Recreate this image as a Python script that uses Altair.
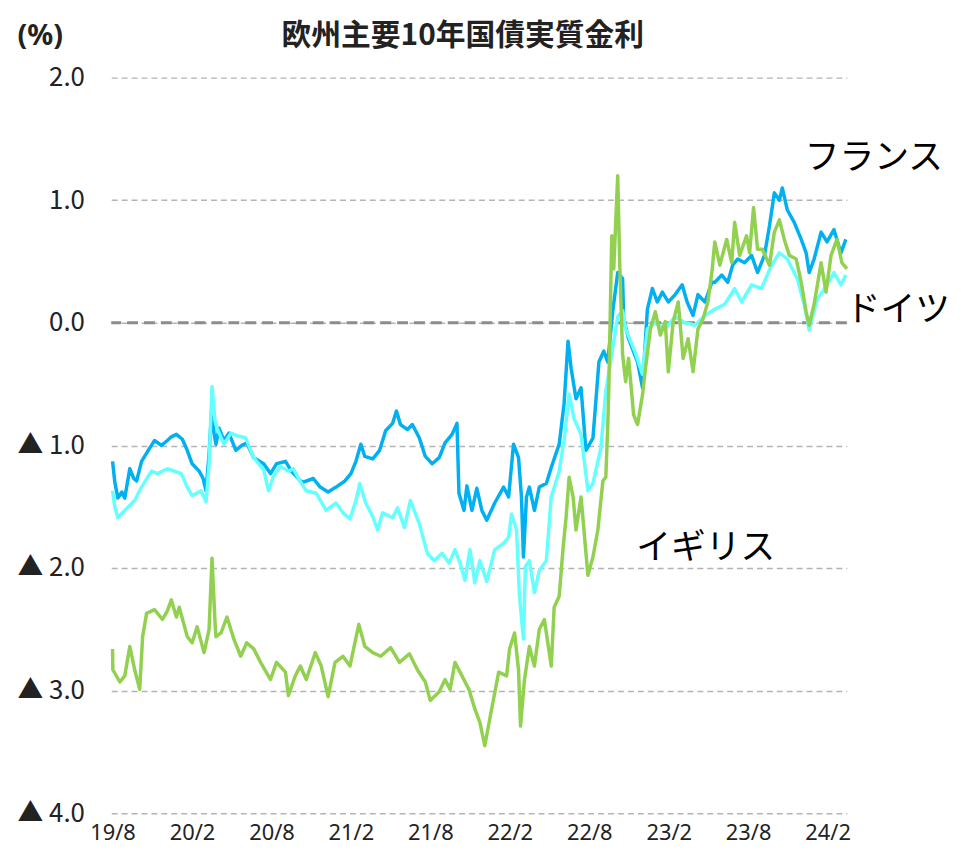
import altair as alt
import pandas as pd

fr_m = [0.00, 0.17, 0.40, 0.70, 0.92, 1.30, 1.60, 1.82, 2.19, 2.64, 2.94, 3.17, 3.69, 4.14, 4.44, 4.82, 5.27, 5.64, 6.01, 6.54,
        6.84, 7.06, 7.29, 7.51, 7.66, 7.81, 8.04, 8.41, 8.79, 9.31, 9.76, 10.13, 10.66, 11.41, 11.93, 12.38, 13.06, 13.51, 14.18, 14.40,
        15.16, 15.68, 16.28, 16.88, 17.55, 18.00, 18.38, 18.75, 19.05, 19.65, 20.17, 20.62, 21.15, 21.44, 21.74, 22.27, 22.64, 23.17, 23.62, 24.14,
        24.67, 25.11, 25.64, 26.01, 26.16, 26.54, 26.76, 27.14, 27.51, 27.89, 28.26, 28.86, 29.53, 29.91, 30.28, 30.66, 30.88, 31.03, 31.26, 31.48,
        31.86, 32.23, 32.76, 33.13, 33.73, 34.10, 34.40, 34.63, 35.00, 35.38, 35.75, 36.28, 36.73, 37.10, 37.40, 37.77, 38.15, 38.52, 38.60, 38.97,
        39.65, 40.02, 40.39, 40.77, 41.14, 41.52, 41.97, 42.49, 43.02, 43.39, 43.84, 44.21, 44.74, 45.26, 45.48, 46.01, 46.46, 46.83, 47.21, 47.73,
        48.26, 48.71, 49.23, 49.61, 49.98, 50.36, 50.58, 50.96, 51.48, 52.01, 52.38, 52.61, 52.98, 53.51, 53.96, 54.48, 55.01, 55.38]
fr_v = [-1.13, -1.30, -1.43, -1.38, -1.43, -1.19, -1.27, -1.29, -1.13, -1.05, -1.00, -0.96, -1.00, -0.96, -0.93, -0.91, -0.95, -1.04, -1.15, -1.21,
        -1.27, -1.37, -1.07, -0.66, -0.90, -0.99, -0.86, -0.96, -0.90, -1.04, -1.00, -0.98, -1.10, -1.15, -1.23, -1.15, -1.13, -1.21, -1.29, -1.30,
        -1.27, -1.34, -1.38, -1.34, -1.29, -1.23, -1.13, -0.99, -1.09, -1.11, -1.04, -0.88, -0.82, -0.72, -0.83, -0.87, -0.83, -0.94, -1.09, -1.15,
        -1.10, -0.98, -0.91, -0.82, -1.39, -1.53, -1.33, -1.53, -1.35, -1.53, -1.61, -1.47, -1.34, -1.42, -0.99, -1.10, -1.42, -1.91, -1.42, -1.34,
        -1.53, -1.34, -1.31, -1.18, -0.99, -0.66, -0.15, -0.37, -0.62, -0.53, -1.04, -0.94, -0.32, -0.23, -0.32, 0.09, 0.41, 0.36, 0.03, -0.13,
        -0.32, -0.53, 0.11, 0.28, 0.17, 0.25, 0.17, 0.23, 0.31, 0.17, 0.06, 0.23, 0.17, 0.33, 0.33, 0.39, 0.33, 0.47, 0.52, 0.49,
        0.55, 0.41, 0.55, 0.79, 1.06, 1.00, 1.10, 0.92, 0.82, 0.68, 0.57, 0.41, 0.52, 0.74, 0.66, 0.76, 0.57, 0.68]

de_m = [0.00, 0.17, 0.40, 0.92, 1.67, 2.19, 2.94, 3.39, 4.14, 4.67, 5.19, 5.64, 6.01, 6.69, 7.06, 7.29, 7.51, 7.74, 7.89, 8.41,
        8.94, 9.39, 10.06, 10.66, 11.41, 11.78, 12.16, 12.68, 13.28, 13.66, 14.03, 14.63, 15.38, 16.13, 16.88, 17.40, 17.93, 18.38, 18.67, 19.12,
        19.65, 20.02, 20.39, 21.15, 21.52, 22.04, 22.49, 23.17, 23.77, 24.29, 24.89, 25.41, 25.86, 26.24, 26.61, 26.99, 27.36, 27.74, 28.26, 28.86,
        29.53, 29.91, 30.13, 30.51, 30.73, 31.03, 31.18, 31.48, 31.86, 32.23, 32.76, 33.13, 33.73, 34.10, 34.48, 34.85, 35.38, 35.90, 36.28, 36.88,
        37.25, 37.77, 38.15, 38.52, 38.75, 39.50, 40.02, 40.39, 40.99, 41.74, 42.49, 43.24, 43.99, 44.74, 45.48, 46.23, 46.98, 47.51, 48.26, 49.01,
        49.76, 50.36, 50.96, 51.71, 52.23, 52.61, 53.21, 53.96, 54.48, 55.01, 55.38]
de_v = [-1.37, -1.50, -1.59, -1.53, -1.45, -1.34, -1.21, -1.23, -1.19, -1.21, -1.23, -1.34, -1.41, -1.37, -1.46, -1.15, -0.52, -0.80, -0.86, -0.99,
        -0.90, -0.92, -0.94, -1.10, -1.20, -1.37, -1.25, -1.17, -1.21, -1.19, -1.27, -1.37, -1.39, -1.53, -1.47, -1.55, -1.60, -1.45, -1.31, -1.47,
        -1.58, -1.69, -1.55, -1.59, -1.51, -1.67, -1.45, -1.64, -1.88, -1.94, -1.88, -1.96, -1.85, -1.96, -2.10, -1.85, -2.12, -1.94, -2.11, -1.85,
        -1.80, -1.75, -1.56, -1.69, -2.23, -2.58, -1.99, -1.94, -2.20, -2.02, -1.94, -1.42, -1.21, -0.96, -0.58, -0.78, -0.91, -1.37, -1.31, -1.02,
        -0.56, -0.21, 0.05, 0.10, -0.05, -0.25, -0.42, -0.05, 0.00, -0.05, 0.05, 0.00, -0.02, 0.06, 0.11, 0.15, 0.28, 0.17, 0.31, 0.28,
        0.47, 0.57, 0.52, 0.36, 0.15, -0.06, 0.19, 0.31, 0.41, 0.31, 0.39]

uk_m = [0.00, 0.02, 0.55, 0.92, 1.30, 1.67, 2.05, 2.27, 2.57, 3.17, 3.77, 4.14, 4.44, 4.82, 5.04, 5.64, 6.01, 6.39, 6.91, 7.29,
        7.51, 7.74, 7.81, 8.19, 8.64, 9.16, 9.68, 10.13, 10.66, 11.18, 11.93, 12.38, 13.06, 13.28, 13.80, 14.18, 14.63, 15.31, 15.76, 16.28,
        16.80, 17.40, 17.93, 18.30, 18.60, 19.05, 19.65, 20.25, 21.00, 21.67, 22.42, 23.02, 23.62, 23.99, 24.67, 25.11, 25.49, 25.86, 26.39, 26.91,
        27.36, 27.74, 28.11, 28.49, 29.16, 29.76, 29.98, 30.36, 30.66, 30.81, 31.11, 31.48, 31.86, 32.23, 32.61, 33.13, 33.35, 33.73, 34.03, 34.25,
        34.48, 34.78, 35.00, 35.38, 35.60, 35.90, 36.28, 36.65, 37.03, 37.25, 37.40, 37.48, 37.70, 37.85, 38.15, 38.30, 38.52, 38.75, 38.97, 39.35,
        39.65, 40.02, 40.25, 40.62, 40.99, 41.37, 41.74, 41.97, 42.34, 42.72, 43.09, 43.47, 43.84, 44.21, 44.59, 44.96, 45.26, 45.48, 45.86, 46.38,
        46.76, 46.98, 47.36, 47.88, 48.11, 48.41, 48.71, 49.08, 49.61, 49.98, 50.36, 50.73, 51.11, 51.63, 52.01, 52.38, 52.61, 52.98, 53.51, 53.88,
        54.26, 54.71, 55.08, 55.46]
uk_v = [-2.66, -2.83, -2.93, -2.88, -2.64, -2.83, -2.99, -2.56, -2.37, -2.34, -2.42, -2.35, -2.26, -2.40, -2.32, -2.56, -2.61, -2.48, -2.69, -2.50,
        -1.92, -2.45, -2.56, -2.53, -2.40, -2.58, -2.72, -2.61, -2.66, -2.77, -2.91, -2.77, -2.85, -3.04, -2.88, -2.80, -2.91, -2.69, -2.80, -3.05,
        -2.77, -2.72, -2.80, -2.61, -2.46, -2.64, -2.69, -2.72, -2.65, -2.77, -2.70, -2.83, -2.93, -3.08, -3.01, -2.91, -2.99, -2.77, -2.88, -2.99,
        -3.15, -3.26, -3.45, -3.23, -2.85, -2.88, -2.66, -2.53, -2.83, -3.29, -2.91, -2.64, -2.80, -2.50, -2.42, -2.80, -2.32, -2.23, -1.83, -1.59,
        -1.26, -1.42, -1.69, -1.42, -1.69, -2.06, -1.91, -1.69, -1.29, -1.26, -0.83, -0.53, 0.71, 0.44, 1.20, 0.49, -0.26, -0.48, -0.29, -0.75,
        -0.83, -0.59, -0.37, -0.05, 0.09, -0.10, 0.01, -0.40, 0.01, 0.17, -0.29, -0.13, -0.40, -0.05, 0.03, 0.17, 0.41, 0.66, 0.47, 0.68,
        0.49, 0.82, 0.55, 0.71, 0.57, 0.94, 0.60, 0.60, 0.47, 0.74, 0.84, 0.68, 0.55, 0.52, 0.33, 0.09, -0.02, 0.15, 0.49, 0.25,
        0.55, 0.68, 0.49, 0.44]

tick_labels = ["19/8", "20/2", "20/8", "21/2", "21/8", "22/2", "22/8", "23/2", "23/8", "24/2"]
series_names = ["フランス", "ドイツ", "イギリス"]
series_colors = ["#00B0F0", "#66FFFF", "#92D050"]
label_m = [57.5, 59.3, 44.8]
label_v = [1.34, 0.10, -1.84]
title_text = "欧州主要10年国債実質金利"

frames = []
for name, ms, vs in zip(series_names, [fr_m, de_m, uk_m], [fr_v, de_v, uk_v]):
    frames.append(pd.DataFrame({"m": ms, "v": vs, "s": name, "i": range(len(ms))}))
df = pd.concat(frames, ignore_index=True)

labels_js = "[" + ",".join("'%s'" % t for t in tick_labels) + "]"

x_enc = alt.X("m:Q", scale=alt.Scale(domain=[-0.1, 55.45], nice=False, zero=False),
              axis=alt.Axis(values=[6 * k for k in range(len(tick_labels))],
                            labelExpr=labels_js + "[round(datum.value / 6)]",
                            grid=False, ticks=False, tickSize=0, domain=False,
                            labelFont="Noto Sans", labelFontSize=22, labelColor="#222222",
                            labelPadding=10, title=None))
y_enc = alt.Y("v:Q", scale=alt.Scale(domain=[-4, 2], nice=False, zero=False),
              axis=alt.Axis(values=[2, 1, 0, -1, -2, -3, -4],
                            labelExpr="datum.value < 0 ? '▲ ' + format(-datum.value, '.1f') : format(datum.value, '.1f')",
                            grid=True, gridDash=[6, 4], gridColor="#b4b4b4", gridWidth=1.5,
                            ticks=False, tickSize=0, domain=False,
                            labelFont="Noto Sans CJK JP", labelFontSize=26, labelColor="#222222",
                            labelPadding=27,
                            title="(%)", titleAngle=0, titleAlign="left", titleBaseline="middle",
                            titleX=-95, titleY=-42, titleFont="Noto Sans", titleFontSize=29,
                            titleFontWeight="bold", titleColor="#222222"))

base = alt.Chart(df)
zero = alt.Chart(pd.DataFrame({"v": [0]})).mark_rule(
    color="#8c8c8c", strokeWidth=3, strokeDash=[11, 6]).encode(y=alt.Y("v:Q"))

lines = []
for name, col in zip(series_names, series_colors):
    lines.append(base.transform_filter(alt.datum.s == name).mark_line(
        color=col, strokeWidth=3.5, strokeJoin="round").encode(x=x_enc, y=y_enc, order="i:Q"))

lab_df = pd.DataFrame({"m": label_m, "v": label_v, "t": series_names})
texts = alt.Chart(lab_df).mark_text(font="Noto Sans CJK JP", fontSize=35, color="#000000",
                                     align="center", baseline="middle").encode(
    x="m:Q", y="v:Q", text="t:N")

title_df = pd.DataFrame({"m": [26.45], "v": [2.34], "t": [title_text]})
title_mark = alt.Chart(title_df).mark_text(font="Noto Sans CJK JP", fontSize=30, fontWeight="bold",
                                           color="#222222", align="center", baseline="middle").encode(
    x="m:Q", y="v:Q", text="t:N")

chart = alt.layer(zero, *lines, texts, title_mark).properties(
    width=741, height=741,
    background="white",
    autosize=alt.AutoSizeParams(type="none"),
    padding={"left": 104, "top": 67, "right": 107, "bottom": 40},
).configure_view(stroke=None, strokeWidth=0)

chart.save("out.html", embed_options={"renderer": "svg", "actions": False})
